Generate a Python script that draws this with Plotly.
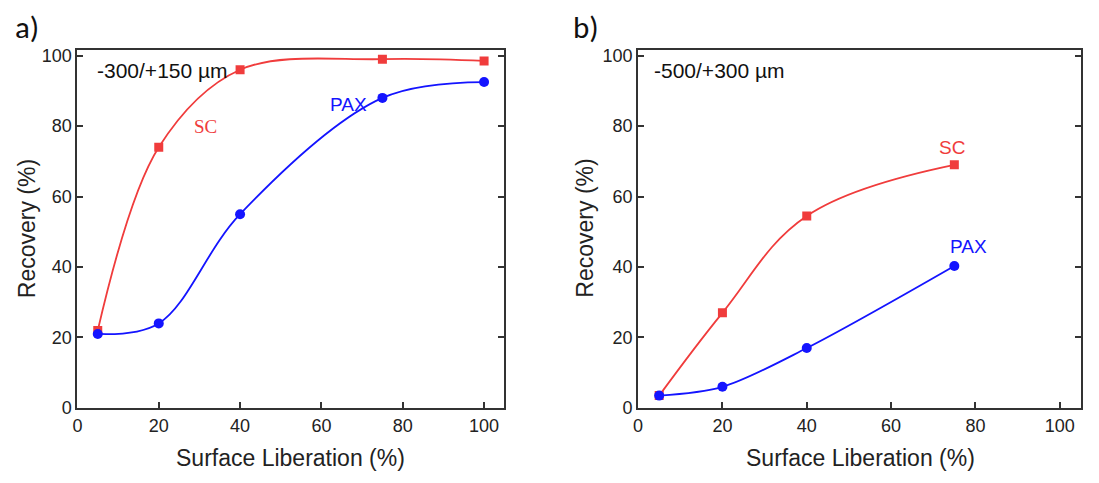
import plotly.graph_objects as go

# Panel a: -300/+150 um
a_x_sc = [5, 20, 40, 75, 100]
a_sc = [22, 74, 96, 99, 98.5]
a_x_pax = [5, 20, 40, 75, 100]
a_pax = [21, 24, 55, 88, 92.5]

# Panel b: -500/+300 um
b_x_sc = [5, 20, 40, 75]
b_sc = [3.5, 27, 54.5, 69]
b_x_pax = [5, 20, 40, 75]
b_pax = [3.5, 6, 17, 40.3]

x_ticks = [0, 20, 40, 60, 80, 100]
y_ticks = [0, 20, 40, 60, 80, 100]

RED = "#f03c3c"
BLUE = "#1414ff"

fig = go.Figure()

def add_series(x, y, color, symbol, xa, ya, size, smoothing):
    fig.add_trace(go.Scatter(
        x=x, y=y, mode="lines+markers", xaxis=xa, yaxis=ya,
        line=dict(color=color, width=1.8, shape="spline", smoothing=smoothing),
        marker=dict(color=color, symbol=symbol, size=size),
        showlegend=False, hoverinfo="skip"))

add_series(a_x_sc, a_sc, RED, "square", "x", "y", 9, 1.0)
add_series(a_x_pax, a_pax, BLUE, "circle", "x", "y", 10, 1.0)
add_series(b_x_sc, b_sc, RED, "square", "x2", "y2", 9, 1.1)
add_series(b_x_pax, b_pax, BLUE, "circle", "x2", "y2", 10, 0.9)

sans = "Arial"
tickfont = dict(family=sans, size=18, color="#222")
axis_common = dict(showgrid=False, zeroline=False, showline=True, linecolor="#333",
                   linewidth=2, ticks="inside", ticklen=6, tickwidth=2, tickcolor="#333",
                   tickfont=tickfont)

fig.update_layout(
    width=1099, height=483,
    margin=dict(l=0, r=0, t=0, b=0),
    paper_bgcolor="white", plot_bgcolor="white",
    xaxis=dict(domain=[0.0662, 0.4565], range=[0, 105], tickvals=x_ticks, mirror=True,
               anchor="y", **axis_common),
    yaxis=dict(domain=[0.1387, 0.9027], range=[0, 101.7], tickvals=y_ticks, mirror="ticks",
               anchor="x", **axis_common),
    xaxis2=dict(domain=[0.5787, 0.9834], range=[0, 105], tickvals=x_ticks, mirror=True,
                anchor="y2", **axis_common),
    yaxis2=dict(domain=[0.1387, 0.9027], range=[0, 101.7], tickvals=y_ticks, mirror="ticks",
                anchor="x2", **axis_common),
)

ann = []
# axis titles
for cx in [287, 859]:
    ann.append(dict(x=cx / 1099, y=1 - 468 / 483, xref="paper", yref="paper",
                    text="Surface Liberation (%)", showarrow=False,
                    font=dict(family=sans, size=23, color="#222"),
                    xanchor="center", yanchor="middle"))
for cx in [22, 583]:
    ann.append(dict(x=cx / 1099, y=1 - 231 / 483, xref="paper", yref="paper",
                    text="Recovery (%)", showarrow=False, textangle=-90,
                    font=dict(family=sans, size=23, color="#222"),
                    xanchor="center", yanchor="middle"))
# panel labels
for cx, t in [(22, "a)"), (584, "b)")]:
    ann.append(dict(x=cx / 1099, y=1 - 24 / 483, xref="paper", yref="paper",
                    text=t, showarrow=False,
                    font=dict(family="Carlito, Liberation Sans, sans-serif", size=31, color="#111"),
                    xanchor="center", yanchor="middle"))
# in-plot texts
ann += [
    dict(x=4.3, y=95.9, xref="x", yref="y", text="-300/+150 µm", showarrow=False,
         xanchor="left", yanchor="middle", font=dict(family=sans, size=21, color="#111")),
    dict(x=3.4, y=95.9, xref="x2", yref="y2", text="-500/+300 µm", showarrow=False,
         xanchor="left", yanchor="middle", font=dict(family=sans, size=21, color="#111")),
    dict(x=31.6, y=79.9, xref="x", yref="y", text="SC", showarrow=False,
         font=dict(family="Liberation Serif, Times New Roman, serif", size=19, color=RED)),
    dict(x=66.6, y=86.2, xref="x", yref="y", text="PAX", showarrow=False,
         font=dict(family=sans, size=19, color=BLUE)),
    dict(x=74.5, y=74.0, xref="x2", yref="y2", text="SC", showarrow=False,
         font=dict(family=sans, size=19, color=RED)),
    dict(x=78.3, y=45.7, xref="x2", yref="y2", text="PAX", showarrow=False,
         font=dict(family=sans, size=19, color=BLUE)),
]
fig.update_layout(annotations=ann)

fig.write_html("out.html")
